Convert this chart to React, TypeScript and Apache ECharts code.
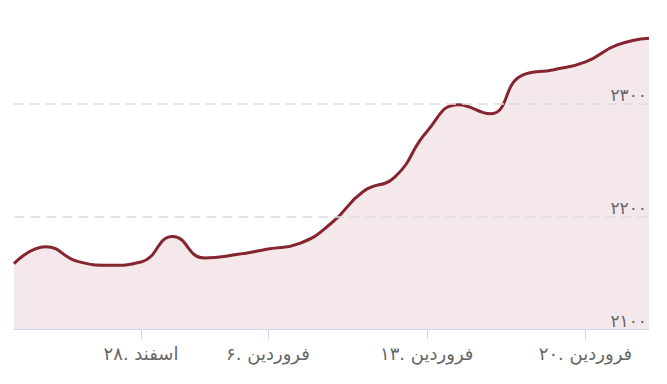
import React, { useEffect, useRef } from "react";
import * as echarts from "echarts";

const categories: string[] = [
  "۲۲. اسفند", "۲۳. اسفند", "۲۶. اسفند", "۲۷. اسفند", "۲۸. اسفند",
  "۲۹. اسفند", "۴. فروردین", "۵. فروردین", "۶. فروردین", "۷. فروردین",
  "۸. فروردین", "۱۱. فروردین", "۱۲. فروردین", "۱۳. فروردین", "۱۴. فروردین",
  "۱۵. فروردین", "۱۸. فروردین", "۱۹. فروردین", "۲۰. فروردین", "۲۱. فروردین",
  "۲۲. فروردین",
];

const values: number[] = [
  2158, 2173, 2160, 2156.5, 2159.5, 2182, 2163, 2166, 2171, 2176,
  2194, 2222, 2235, 2275, 2299, 2291, 2325, 2330, 2337, 2352, 2358,
];

const labeledIndices: number[] = [4, 8, 13, 18];

const gridValues: number[] = [2200, 2300];

const yMin = 2100;
const yMax = 2375;
const yInterval = 100;

const faDigits = "۰۱۲۳۴۵۶۷۸۹";
const toFa = (n: number) => String(n).replace(/[0-9]/g, (d) => faDigits[Number(d)]);

export default function App() {
  const ref = useRef<HTMLDivElement>(null);
  useEffect(() => {
    if (!ref.current) return;
    const chart = echarts.init(ref.current, undefined, { renderer: "svg" });
    const font = "'DejaVu Sans', 'Noto Sans', sans-serif";
    chart.setOption({
      animation: false,
      grid: { left: 14, right: 18, top: 19, bottom: 55, containLabel: false },
      xAxis: {
        type: "category",
        data: categories,
        boundaryGap: false,
        z: 5,
        axisLine: { show: true, lineStyle: { color: "#ccd6eb", width: 1 } },
        axisTick: {
          show: true,
          length: 10,
          lineStyle: { color: "#ccd6eb" },
          interval: (i: number) => labeledIndices.includes(i),
        },
        axisLabel: {
          interval: (i: number) => labeledIndices.includes(i),
          color: "#666666",
          fontSize: 18,
          fontFamily: font,
          margin: 15,
        },
        splitLine: { show: false },
      },
      yAxis: {
        type: "value",
        position: "right",
        min: yMin,
        max: yMax,
        interval: yInterval,
        z: 5,
        axisLine: { show: false },
        axisTick: { show: false },
        axisLabel: {
          inside: false,
          margin: -2,
          align: "right",
          verticalAlign: "bottom",
          color: "#666666",
          fontSize: 17,
          fontFamily: font,
          formatter: (v: number) => (v % 100 === 0 ? toFa(v) : ""),
        },
        splitLine: { show: false },
      },
      series: [
        {
          type: "line",
          data: values,
          smooth: 0.5,
          symbol: "none",
          lineStyle: { color: "#85252f", width: 3 },
          areaStyle: { color: "#f4e8ea", opacity: 1 },
          markLine: {
            silent: true,
            symbol: "none",
            label: { show: false },
            lineStyle: { color: "#dddddd", type: [10, 6], width: 1.5 },
            data: gridValues.map((v) => ({ yAxis: v })),
          },
        },
      ],
    });
    return () => chart.dispose();
  }, []);
  return (
    <div
      ref={ref}
      style={{ position: "fixed", left: 0, top: 0, width: 667, height: 384, background: "#ffffff" }}
    />
  );
}
